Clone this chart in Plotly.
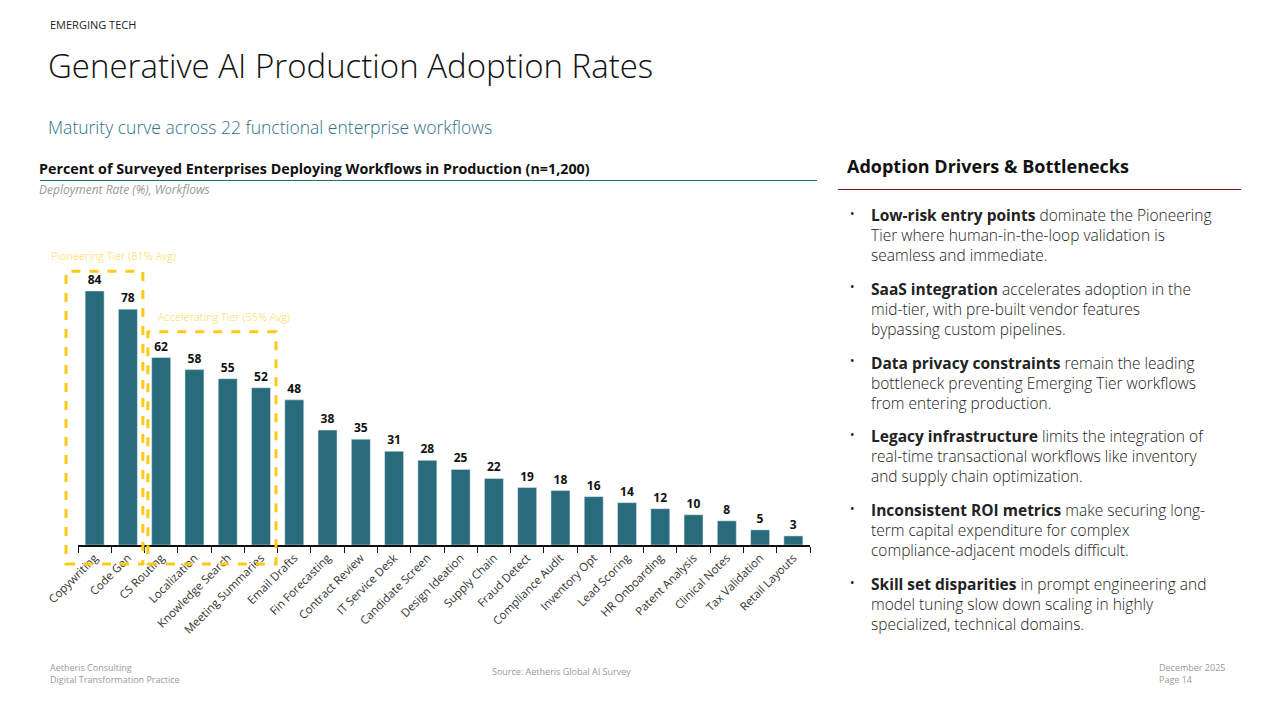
import plotly.graph_objects as go

categories = ["Copywriting", "Code Gen", "CS Routing", "Localization", "Knowledge Search",
              "Meeting Summaries", "Email Drafts", "Fin Forecasting", "Contract Review",
              "IT Service Desk", "Candidate Screen", "Design Ideation", "Supply Chain",
              "Fraud Detect", "Compliance Audit", "Inventory Opt", "Lead Scoring",
              "HR Onboarding", "Patent Analysis", "Clinical Notes", "Tax Validation",
              "Retail Layouts"]
values = [84, 78, 62, 58, 55, 52, 48, 38, 35, 31, 28, 25, 22, 19, 18, 16, 14, 12, 10, 8, 5, 3]

tiers = [
    {"label": "Pioneering Tier (81% Avg)", "first": 0, "last": 1, "top": 90.5},
    {"label": "Accelerating Tier (55% Avg)", "first": 2, "last": 5, "top": 70.5},
]

bullets = [
    ("Low-risk entry points", " dominate the Pioneering<br>Tier where human-in-the-loop validation is<br>seamless and immediate."),
    ("SaaS integration", " accelerates adoption in the<br>mid-tier, with pre-built vendor features<br>bypassing custom pipelines."),
    ("Data privacy constraints", " remain the leading<br>bottleneck preventing Emerging Tier workflows<br>from entering production."),
    ("Legacy infrastructure", " limits the integration of<br>real-time transactional workflows like inventory<br>and supply chain optimization."),
    ("Inconsistent ROI metrics", " make securing long-<br>term capital expenditure for complex<br>compliance-adjacent models difficult."),
    ("Skill set disparities", " in prompt engineering and<br>model tuning slow down scaling in highly<br>specialized, technical domains."),
]

FONT = "Open Sans"
W, H = 1280, 720
BAR = "#286B7B"
GOLD = "#FFC914"

x0px, x1px = 78, 810
base_px, top_px = 545, 242.6
ymax = 100

fig = go.Figure()
fig.add_trace(go.Bar(
    x=categories, y=values, marker_color=BAR, width=0.57,
    text=[str(v) for v in values], textposition="outside",
    textfont=dict(family=FONT, size=12, color="#111", weight="bold"),
    cliponaxis=False, hoverinfo="skip",
))

n = len(categories)

def xdom(idx):
    return (idx + 0.5) / n

def ydom(val):
    return val / ymax

label_shift = [-0.5, 0.25]  # label offset from box left edge, in category widths

shapes = []
annotations = []
for t, sh in zip(tiers, label_shift):
    left = xdom(t["first"] - 0.5) - 0.36 / n if t["first"] == 0 else xdom(t["first"] - 0.5) + 0.1 / n
    right = xdom(t["last"] + 0.5) - 0.05 / n
    shapes.append(dict(type="rect", xref="x domain", yref="y domain",
                       x0=left, x1=right, y0=ydom(-6.3), y1=ydom(t["top"]),
                       line=dict(color=GOLD, width=3, dash="dash"), fillcolor="rgba(0,0,0,0)",
                       layer="above"))
    annotations.append(dict(xref="x domain", yref="y domain", x=left + sh / n, y=ydom(t["top"] + 2.0),
                            text=t["label"], showarrow=False, xanchor="left", yanchor="bottom",
                            font=dict(family=FONT, size=11, color="#FFD84D", weight=300)))

def px(x):
    return x / W

def py(y):
    return 1 - y / H

def ann(x, y, text, size, color="#111", xanchor="left", yanchor="middle", weight=None, style=None, align="left"):
    f = dict(family=FONT, size=size, color=color)
    if weight:
        f["weight"] = weight
    if style:
        f["style"] = style
    annotations.append(dict(xref="paper", yref="paper", x=px(x), y=py(y), text=text, showarrow=False,
                            xanchor=xanchor, yanchor=yanchor, font=f, align=align))

ann(48, 25, "EMERGING TECH", 11, "#222")
ann(46, 65, "Generative AI Production Adoption Rates", 33, "#111", weight=300)
ann(46, 127, "Maturity curve across 22 functional enterprise workflows", 17.5, "#2F7186", weight=300)
ann(37, 168, "<b>Percent of Surveyed Enterprises Deploying Workflows in Production (n=1,200)</b>", 14.3, "#111")
ann(37, 190, "<i>Deployment Rate (%), Workflows</i>", 12, "#999")
ann(845, 166, "<b>Adoption Drivers &amp; Bottlenecks</b>", 18, "#111")

for i, (b, rest) in enumerate(bullets):
    y = 202 + 73.8 * i
    ann(848, y + 11, "•", 12, "#111")
    ann(869, y, "<b>" + b + "</b>" + rest, 15.5, "#222", yanchor="top", weight=300)

ann(48, 667, "Aetheris Consulting", 9, "#999")
ann(48, 679, "Digital Transformation Practice", 9, "#999")
ann(490, 671, "Source: Aetheris Global AI Survey", 9, "#999")
ann(1157, 667, "December 2025", 9, "#999")
ann(1157, 679, "Page 14", 9, "#999")

shapes.append(dict(type="line", xref="paper", yref="paper", x0=px(40), x1=px(817), y0=py(180.5), y1=py(180.5),
                   line=dict(color="#286B7B", width=1.2)))
shapes.append(dict(type="line", xref="paper", yref="paper", x0=px(838), x1=px(1241), y0=py(189.5), y1=py(189.5),
                   line=dict(color="#7A1F1F", width=1.2)))

fig.update_layout(
    width=W, height=H, margin=dict(l=0, r=0, t=0, b=0, autoexpand=False),
    paper_bgcolor="white", plot_bgcolor="white",
    showlegend=False, shapes=shapes, annotations=annotations,
    font=dict(family=FONT),
    xaxis=dict(domain=[px(x0px), px(x1px)], range=[-0.5, n - 0.5], tickangle=-45, automargin=False,
               showline=True, linecolor="#111", linewidth=1.5, ticks="outside", tickson="boundaries",
               ticklen=6, tickcolor="#111", showgrid=False,
               tickfont=dict(family=FONT, size=11.5, color="#333")),
    yaxis=dict(domain=[py(base_px), py(top_px)], range=[0, ymax], visible=False, fixedrange=True,
               automargin=False),
)

fig.write_html("out.html")
